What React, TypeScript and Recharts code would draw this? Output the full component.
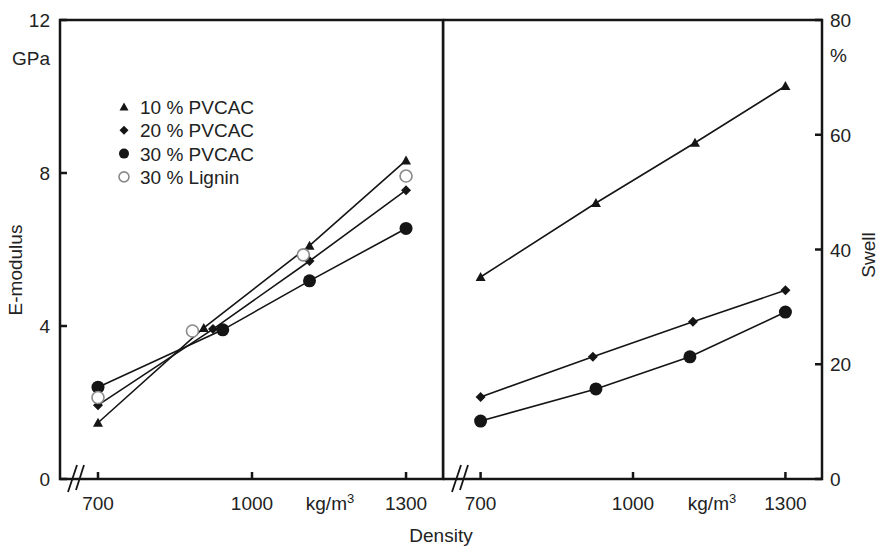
import { Line, LineChart, ReferenceArea, XAxis, YAxis } from "recharts";

// left panel: E-modulus (GPa) vs density
const eDensity10 = [700, 906, 1112, 1300];
const eModulus10 = [1.47, 3.95, 6.1, 8.33];
const eDensity20 = [700, 924, 1112, 1300];
const eModulus20 = [1.93, 3.92, 5.7, 7.55];
const eDensity30 = [700, 943, 1112, 1300];
const eModulus30 = [2.4, 3.9, 5.18, 6.55];
const eDensityLignin = [700, 884, 1100, 1300];
const eModulusLignin = [2.13, 3.87, 5.86, 7.92];

// right panel: swell (%) vs density
const swDensity10 = [700, 927, 1122, 1300];
const swell10 = [35.2, 48.1, 58.6, 68.5];
const swDensity20 = [700, 921, 1118, 1300];
const swell20 = [14.3, 21.3, 27.4, 32.9];
const swDensity30 = [700, 927, 1112, 1300];
const swell30 = [10.1, 15.7, 21.3, 29.1];

const densityTicks = [700, 1000, 1300];
const modulusTicks = [0, 4, 8, 12];
const swellTicks = [0, 20, 40, 60, 80];
const legendLabels = ["10 % PVCAC", "20 % PVCAC", "30 % PVCAC", "30 % Lignin"];

const toPoints = (xs: number[], ys: number[]) => xs.map((x, i) => ({ x, y: ys[i] }));

const INK = "#151515";
const FONT = "'Liberation Sans', Arial, sans-serif";
const DOMAIN_X: [number, number] = [626, 1372];

const Triangle = ({ cx, cy, s = 5 }: any) => (
  <polygon points={`${cx},${cy - s} ${cx - s},${cy + s * 0.8} ${cx + s},${cy + s * 0.8}`} fill={INK} />
);
const Diamond = ({ cx, cy, s = 5 }: any) => (
  <polygon points={`${cx},${cy - s} ${cx + s},${cy} ${cx},${cy + s} ${cx - s},${cy}`} fill={INK} />
);
const Dot = ({ cx, cy, r = 6.5 }: any) => <circle cx={cx} cy={cy} r={r} fill={INK} />;
const OpenDot = ({ cx, cy, r = 6 }: any) => (
  <circle cx={cx} cy={cy} r={r} fill="#fff" stroke="#8a8a8a" strokeWidth={1.6} />
);

const markers = [Triangle, Diamond, Dot, OpenDot];

const dotOf = (M: any) => (p: any) => <M key={`d-${p.index}`} cx={p.cx} cy={p.cy} />;

const XTick = ({ x, y, payload }: any) => (
  <g>
    <line x1={x} x2={x} y1={y} y2={y - 7} stroke={INK} strokeWidth={2.5} />
    <text x={x} y={y + 31} textAnchor="middle" fontSize={19} fill="#222" fontFamily={FONT}>
      {payload.value}
    </text>
  </g>
);
const LeftTick = ({ x, y, payload }: any) => (
  <g>
    <line x1={x} x2={x + 7} y1={y} y2={y} stroke={INK} strokeWidth={2.5} />
    <text x={x - 10} y={y + 7} textAnchor="end" fontSize={19} fill="#222" fontFamily={FONT}>
      {payload.value}
    </text>
  </g>
);
const RightTick = ({ x, y, payload }: any) => (
  <g>
    <line x1={x} x2={x - 7} y1={y} y2={y} stroke={INK} strokeWidth={2.5} />
    <text x={x + 8} y={y + 7} textAnchor="start" fontSize={19} fill="#222" fontFamily={FONT}>
      {payload.value}
    </text>
  </g>
);

const lineProps = {
  type: "linear" as const,
  dataKey: "y",
  stroke: INK,
  strokeWidth: 1.6,
  isAnimationActive: false,
  activeDot: false,
};

const Frame = ({ yMax }: { yMax: number }) => (
  <ReferenceArea
    x1={DOMAIN_X[0]}
    x2={DOMAIN_X[1]}
    y1={0}
    y2={yMax}
    fill="none"
    fillOpacity={0}
    stroke={INK}
    strokeWidth={2.5}
    ifOverflow="visible"
  />
);

const Unit = ({ x, y }: { x: number; y: number }) => (
  <text x={x} y={y} textAnchor="middle" fontSize={19} fill="#222" fontFamily={FONT}>
    kg/m<tspan dy={-7} fontSize={13}>3</tspan>
  </text>
);

const BreakMark = ({ x }: { x: number }) => (
  <g stroke={INK} strokeWidth={1.8}>
    <line x1={x} y1={492} x2={x + 9} y2={465} />
    <line x1={x + 8} y1={490} x2={x + 16} y2={465} />
  </g>
);

export default function App() {
  return (
    <div style={{ position: "absolute", left: 0, top: 0, width: 882, height: 546, background: "#fff", fontFamily: FONT }}>
      <div style={{ position: "absolute", left: 0, top: 0 }}>
        <LineChart width={450} height={546} margin={{ top: 20, right: 7, bottom: 37, left: 0 }}>
          <XAxis type="number" dataKey="x" domain={DOMAIN_X} ticks={densityTicks} allowDataOverflow
            axisLine={false} tickLine={false} tickSize={0} tickMargin={0} height={30} tick={<XTick />} />
          <YAxis type="number" domain={[0, 12]} ticks={modulusTicks} allowDataOverflow width={60}
            axisLine={false} tickLine={false} tickSize={0} tickMargin={0} tick={<LeftTick />} />
          <Frame yMax={12} />
          <Line {...lineProps} data={toPoints(eDensity10, eModulus10)} dot={dotOf(Triangle)} />
          <Line {...lineProps} data={toPoints(eDensity20, eModulus20)} dot={dotOf(Diamond)} />
          <Line {...lineProps} data={toPoints(eDensity30, eModulus30)} dot={dotOf(Dot)} />
          <Line {...lineProps} stroke="none" data={toPoints(eDensityLignin, eModulusLignin)} dot={dotOf(OpenDot)} />
        </LineChart>
      </div>
      <div style={{ position: "absolute", left: 443, top: 0 }}>
        <LineChart width={439} height={546} margin={{ top: 20, right: 0, bottom: 37, left: 0 }}>
          <XAxis type="number" dataKey="x" domain={DOMAIN_X} ticks={densityTicks} allowDataOverflow
            axisLine={false} tickLine={false} tickSize={0} tickMargin={0} height={30} tick={<XTick />} />
          <YAxis type="number" orientation="right" domain={[0, 80]} ticks={swellTicks} allowDataOverflow width={60}
            axisLine={false} tickLine={false} tickSize={0} tickMargin={0} tick={<RightTick />} />
          <Frame yMax={80} />
          <Line {...lineProps} data={toPoints(swDensity10, swell10)} dot={dotOf(Triangle)} />
          <Line {...lineProps} data={toPoints(swDensity20, swell20)} dot={dotOf(Diamond)} />
          <Line {...lineProps} data={toPoints(swDensity30, swell30)} dot={dotOf(Dot)} />
        </LineChart>
      </div>
      <svg width={882} height={546} style={{ position: "absolute", left: 0, top: 0, pointerEvents: "none" }}>
        <BreakMark x={68} />
        <BreakMark x={452} />
        <Unit x={330} y={510} />
        <Unit x={712} y={510} />
        <text x={441} y={542} textAnchor="middle" fontSize={19} fill="#222" fontFamily={FONT}>Density</text>
        <text x={50} y={65} textAnchor="end" fontSize={19} fill="#222" fontFamily={FONT}>GPa</text>
        <text x={830} y={62} textAnchor="start" fontSize={19} fill="#222" fontFamily={FONT}>%</text>
        <text x={22} y={270} transform="rotate(-90 22 270)" textAnchor="middle" fontSize={19} fill="#222" fontFamily={FONT}>E-modulus</text>
        <text x={875} y={255} transform="rotate(-90 875 255)" textAnchor="middle" fontSize={19} fill="#222" fontFamily={FONT}>Swell</text>
        {legendLabels.map((label, i) => {
          const M = markers[i];
          const cy = 107 + i * 23.3;
          return (
            <g key={label}>
              <M cx={124} cy={cy} s={4.5} r={5} />
              <text x={140} y={cy + 7} fontSize={19} fill="#222" fontFamily={FONT}>{label}</text>
            </g>
          );
        })}
      </svg>
    </div>
  );
}
